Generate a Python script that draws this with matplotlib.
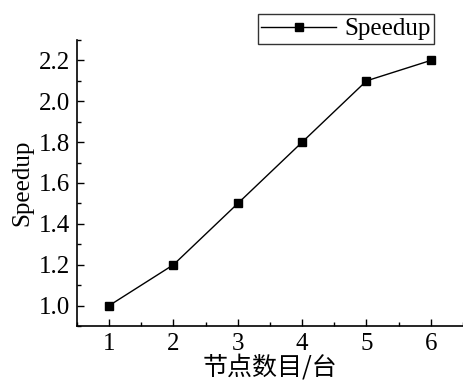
import matplotlib.pyplot as plt
from matplotlib.ticker import MultipleLocator

# 数据
nodes = [1, 2, 3, 4, 5, 6]
speedup = [1.0, 1.2, 1.5, 1.8, 2.1, 2.2]

plt.rcParams['font.family'] = ['Liberation Serif', 'Noto Sans CJK SC']
plt.rcParams['xtick.direction'] = 'in'
plt.rcParams['ytick.direction'] = 'in'

fig = plt.figure(figsize=(4.63, 3.83), dpi=100)
ax = fig.add_axes([0.1663, 0.1488, 0.8337, 0.7468])

ax.plot(nodes, speedup, color='black', lw=1, marker='s', ms=6, label='Speedup')

ax.set_xlim(0.5, 6.5)
ax.set_ylim(0.9, 2.3)
ax.xaxis.set_major_locator(MultipleLocator(1))
ax.xaxis.set_minor_locator(MultipleLocator(0.5))
ax.yaxis.set_major_locator(MultipleLocator(0.2))
ax.yaxis.set_minor_locator(MultipleLocator(0.1))
ax.set_yticks([1.0, 1.2, 1.4, 1.6, 1.8, 2.0, 2.2])
ax.set_yticklabels(['1.0', '1.2', '1.4', '1.6', '1.8', '2.0', '2.2'])
ax.tick_params(which='major', length=5, width=1, labelsize=18, pad=5)
ax.tick_params(which='minor', length=3, width=1)

for s in ['top', 'right']:
    ax.spines[s].set_visible(False)
for s in ['left', 'bottom']:
    ax.spines[s].set_linewidth(1.2)

ax.set_xlabel('节点数目/台', fontsize=18, family=['Noto Sans CJK SC'], labelpad=0)
ax.set_ylabel('Speedup', fontsize=18, labelpad=4)

leg = ax.legend(loc='upper right', bbox_to_anchor=(0.925, 1.09), fontsize=18,
                frameon=True, fancybox=False, edgecolor='black', handlelength=3.0,
                handletextpad=0.3, borderpad=0.15, borderaxespad=0)
leg.get_frame().set_linewidth(1)

fig.savefig('out.png', dpi=100)
